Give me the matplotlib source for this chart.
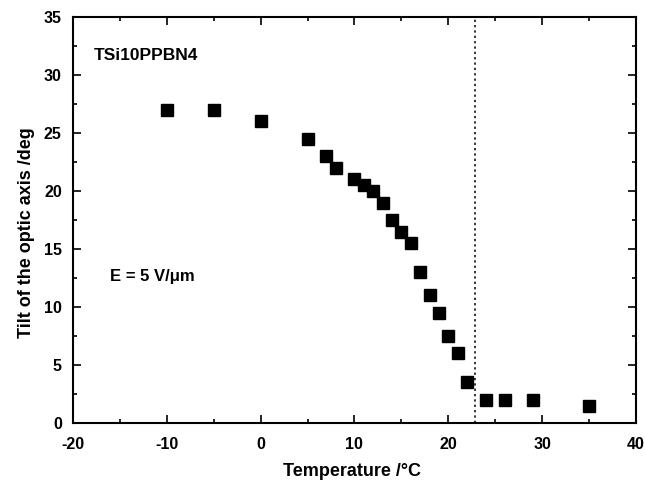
import matplotlib
matplotlib.use("Agg")
import matplotlib.pyplot as plt
from matplotlib.ticker import MultipleLocator

plt.rcParams["font.family"] = ["Liberation Sans", "DejaVu Sans"]
plt.rcParams["font.weight"] = "bold"
plt.rcParams["axes.unicode_minus"] = False

temperature = [-10, -5, 0, 5, 7, 8, 10, 11, 12, 13, 14, 15, 16, 17, 18, 19,
               20, 21, 22, 24, 26, 29, 35]
tilt = [27, 27, 26, 24.5, 23, 22, 21, 20.5, 20, 19, 17.5, 16.5, 15.5, 13, 11,
        9.5, 7.5, 6, 3.5, 2, 2, 2, 1.5]
t_transition = 22.8

fig = plt.figure(figsize=(6.45, 4.84), dpi=100)
ax = fig.add_axes([0.113, 0.126, 0.873, 0.839])

ax.plot(temperature, tilt, "s", color="black", markersize=8)
ax.axvline(t_transition, color="black", linestyle=(0, (1.5, 2)), linewidth=1.1)

ax.set_xlim(-20, 40)
ax.set_ylim(0, 35)
ax.xaxis.set_major_locator(MultipleLocator(10))
ax.xaxis.set_minor_locator(MultipleLocator(5))
ax.yaxis.set_major_locator(MultipleLocator(5))
ax.yaxis.set_minor_locator(MultipleLocator(2.5))
ax.tick_params(which="both", direction="in", top=True, right=True,
               labelsize=11.5, width=1.2)
ax.tick_params(which="major", length=6)
ax.tick_params(which="minor", length=3)
ax.tick_params(axis="x", pad=10)
ax.tick_params(axis="y", pad=8)
for lbl in ax.get_xticklabels() + ax.get_yticklabels():
    lbl.set_fontweight("bold")
for s in ax.spines.values():
    s.set_linewidth(1.5)

ax.set_xlabel("Temperature /°C", fontsize=13, fontweight="bold")
ax.set_ylabel("Tilt of the optic axis /deg", fontsize=13, fontweight="bold")
ax.xaxis.set_label_coords(0.495, -0.098)
ax.yaxis.set_label_coords(-0.068, 0.47)

ax.text(-17.8, 31.7, "TSi10PPBN4", fontsize=12.5, fontweight="bold",
        va="center", ha="left")
ax.text(-16, 12.6, "E = 5 V/μm", fontsize=12, fontweight="bold",
        va="center", ha="left")

fig.savefig("out.png", dpi=100)
